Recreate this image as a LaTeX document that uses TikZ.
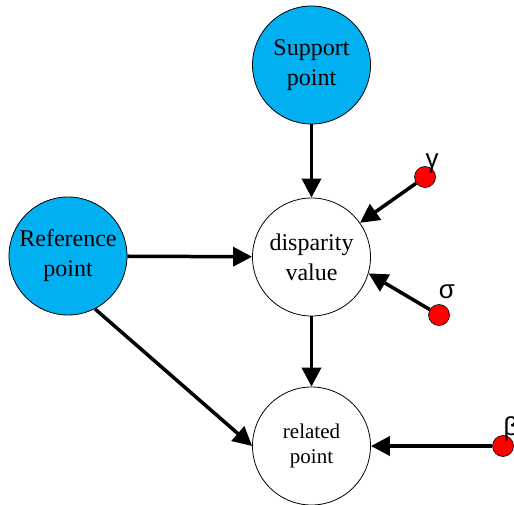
\documentclass[tikz,border=0pt]{standalone}
\usepackage{fontspec}
\setmainfont{Liberation Serif}
\newfontfamily\greekfont{Liberation Sans}
\usetikzlibrary{arrows.meta}
\definecolor{skyblue}{HTML}{00B0F0}
\begin{document}
\begin{tikzpicture}[x=1pt,y=-1pt,
  bignode/.style={circle,draw=black,line width=0.8pt,minimum size=118pt,inner sep=0pt,align=center,font=\fontsize{24}{30}\selectfont},
  bluenode/.style={bignode,fill=skyblue},
  reddot/.style={circle,draw=black,line width=0.6pt,fill=red,minimum size=21pt,inner sep=0pt},
  conn/.style={line width=3.5pt,-{Triangle[length=19pt,width=19pt]}},
  lab/.style={font=\greekfont\fontsize{26}{26}\selectfont,inner sep=0pt}
]
\useasboundingbox (0,0) rectangle (514,505);
\node[bluenode] (sup) at (311.5,65) {Support\\point};
\node[bluenode] (ref) at (68,256) {Reference\\point};
\node[bignode] (disp) at (311.5,257) {disparity\\value};
\node[bignode,font=\fontsize{21}{25}\selectfont] (rel) at (311.5,446) {related\\point};
\node[reddot] (g) at (425,177) {};
\node[reddot] (s) at (439,315) {};
\node[reddot] (b) at (503,446) {};
\node[lab] (gl) at (432,163) {γ};
\node[lab] (sl) at (447,292) {σ};
\node[lab] (bl) at (511,429) {β};
\draw[conn] (sup) -- (disp);
\draw[conn] (ref) -- (disp);
\draw[conn] (ref.-63) -- (rel.west);
\draw[conn] (disp) -- (rel);
\draw[conn] (g) -- (disp);
\draw[conn] (s) -- (disp.-16);
\draw[conn] (b) -- (rel);
\end{tikzpicture}
\end{document}
